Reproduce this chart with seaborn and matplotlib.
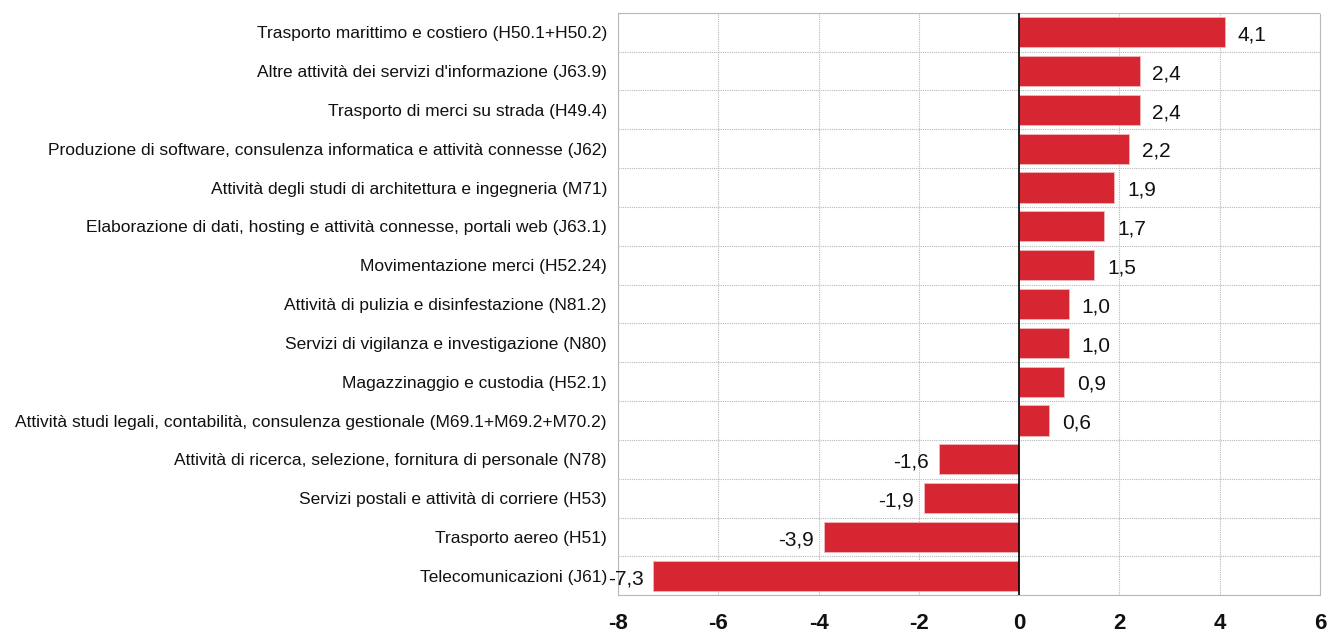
import matplotlib
matplotlib.use("Agg")
import matplotlib.pyplot as plt
import seaborn as sns
import pandas as pd
import numpy as np
from matplotlib import font_manager

categories = [
    "Trasporto marittimo e costiero (H50.1+H50.2)",
    "Altre attività dei servizi d'informazione (J63.9)",
    "Trasporto di merci su strada (H49.4)",
    "Produzione di software, consulenza informatica e attività connesse (J62)",
    "Attività degli studi di architettura e ingegneria (M71)",
    "Elaborazione di dati, hosting e attività connesse, portali web (J63.1)",
    "Movimentazione merci (H52.24)",
    "Attività di pulizia e disinfestazione (N81.2)",
    "Servizi di vigilanza e investigazione (N80)",
    "Magazzinaggio e custodia (H52.1)",
    "Attività studi legali, contabilità, consulenza gestionale (M69.1+M69.2+M70.2)",
    "Attività di ricerca, selezione, fornitura di personale (N78)",
    "Servizi postali e attività di corriere (H53)",
    "Trasporto aereo (H51)",
    "Telecomunicazioni (J61)",
]
values = [4.1, 2.4, 2.4, 2.2, 1.9, 1.7, 1.5, 1.0, 1.0, 0.9, 0.6, -1.6, -1.9, -3.9, -7.3]
xticks = [-8, -6, -4, -2, 0, 2, 4, 6]

names = {f.name for f in font_manager.fontManager.ttflist}
fam = "Liberation Sans Narrow" if "Liberation Sans Narrow" in names else "Liberation Sans"

sns.set_theme(style="white")
plt.rcParams["font.family"] = [fam, "DejaVu Sans"]

df = pd.DataFrame({"cat": categories, "val": values})

fig = plt.figure(figsize=(13.3, 6.38), dpi=100)
ax = fig.add_axes([0.4647, 0.067, 0.5278, 0.913])

sns.barplot(data=df, x="val", y="cat", orient="h", color="#D52631",
            saturation=1, width=0.78, edgecolor="#F0B8BC", linewidth=0.6, ax=ax)

ax.set_xlim(-8, 6)
ax.set_ylim(len(categories) - 0.5, -0.5)
ax.set_xticks(xticks)
ax.set_xticklabels([str(t) for t in xticks], fontsize=16, fontweight="bold", color="#111111")
ax.tick_params(axis="x", pad=13, length=0)
ax.tick_params(axis="y", length=0, pad=8, labelsize=12.5, labelcolor="#111111")
ax.set_xlabel("")
ax.set_ylabel("")

ax.set_yticks(np.arange(-0.5, len(categories), 1.0), minor=True)
ax.grid(axis="x", which="major", color="#B8B8B8", linestyle=(0, (1, 1)), linewidth=0.8)
ax.grid(axis="y", which="minor", color="#B8B8B8", linestyle=(0, (1, 1)), linewidth=0.8)
ax.grid(axis="y", which="major", visible=False)
ax.tick_params(axis="y", which="minor", length=0)
ax.set_axisbelow(True)
for s in ax.spines.values():
    s.set_color("#B8B8B8")
    s.set_linestyle((0, (1, 1)))
    s.set_linewidth(0.8)
ax.axvline(0, color="black", linewidth=1.2, zorder=5)

for i, v in enumerate(values):
    txt = f"{v:.1f}".replace(".", ",")
    if v >= 0:
        ax.annotate(txt, (v, i), xytext=(9, -2), textcoords="offset points",
                    ha="left", va="center", fontsize=15, color="#111111")
    else:
        ax.annotate(txt, (v, i), xytext=(-7, -2), textcoords="offset points",
                    ha="right", va="center", fontsize=15, color="#111111")

fig.savefig("out.png", dpi=100, facecolor="white")
